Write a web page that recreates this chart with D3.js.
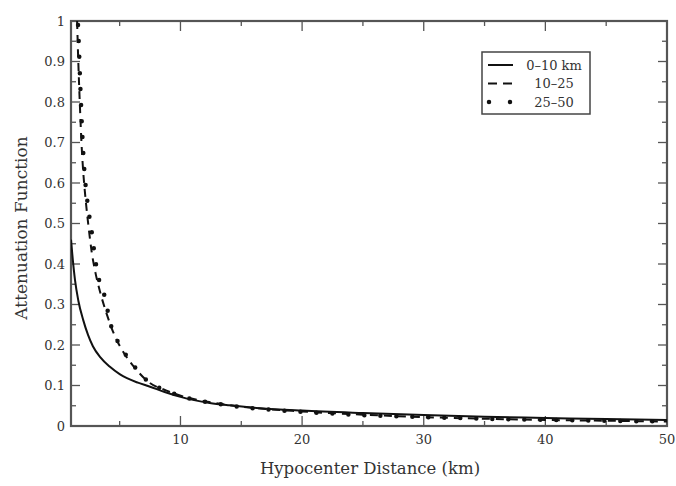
<!DOCTYPE html>
<html>
<head>
<meta charset="utf-8">
<script src="https://cdn.jsdelivr.net/npm/d3@7/dist/d3.min.js"></script>
<style>
	body { margin: 0; background: #fff; }
	svg text { font-family: "DejaVu Serif", "Liberation Serif", serif; fill: #333; }
	.frame { fill: none; stroke: #555; stroke-width: 2.2; }
	.tick { stroke: #555; stroke-width: 1.3; }
	.curve { fill: none; stroke: #111; }
</style>
</head>
<body>
<svg id="chart" width="676" height="486"></svg>
<script>
//
// data
//

var xTicks = [10, 20, 30, 40, 50];
var xMinor = [5, 15, 25, 35, 45];
var yTicks = [0, 0.1, 0.2, 0.3, 0.4, 0.5, 0.6, 0.7, 0.8, 0.9, 1];
var yTickLabels = ["0", "0.1", "0.2", "0.3", "0.4", "0.5", "0.6", "0.7", "0.8", "0.9", "1"];
var yMinor = [0.05, 0.15, 0.25, 0.35, 0.45, 0.55, 0.65, 0.75, 0.85, 0.95];

var seriesNames = ["0\u201310 km", "10\u201325", "25\u201350"];

// 0-10 km (solid)
var dist0 = [1, 1.15, 1.33, 1.6, 2.0, 2.4, 2.8, 3.4, 4.2, 5.0, 5.6, 6.5, 7.5, 8.7, 10, 12.4, 14, 16.5, 20, 25, 30, 35, 40, 45, 50];
var atten0 = [0.46, 0.41, 0.36, 0.31, 0.262, 0.225, 0.197, 0.17, 0.146, 0.128, 0.118, 0.107, 0.097, 0.084, 0.072, 0.057, 0.051, 0.044, 0.038, 0.032, 0.027, 0.023, 0.02, 0.017, 0.015];

// 10-25 km (dashed)
var dist1 = [1.5, 1.6, 1.72, 1.86, 2.0, 2.2, 2.45, 2.7, 3.0, 3.4, 3.9, 4.3, 4.8, 5.4, 6.4, 7.4, 8.8, 10.2, 12, 15, 20, 25, 30, 35, 40, 45, 50];
var atten1 = [1.0, 0.9, 0.8, 0.7, 0.63, 0.56, 0.49, 0.43, 0.38, 0.33, 0.28, 0.245, 0.21, 0.178, 0.138, 0.108, 0.088, 0.073, 0.061, 0.048, 0.036, 0.028, 0.022, 0.018, 0.015, 0.013, 0.011];

// 25-50 km (dotted)
var dist2 = [1.58, 1.66, 1.74, 1.82, 1.9, 2.0, 2.1, 2.25, 2.45, 2.7, 3.0, 3.35, 3.9, 4.1, 4.6, 5.25, 6.4, 7.4, 8.8, 10.2, 12, 15, 20, 25, 30, 35, 40, 45, 50];
var atten2 = [0.99, 0.93, 0.86, 0.8, 0.74, 0.68, 0.63, 0.58, 0.53, 0.48, 0.41, 0.355, 0.305, 0.27, 0.225, 0.188, 0.14, 0.108, 0.088, 0.072, 0.06, 0.047, 0.035, 0.027, 0.022, 0.018, 0.015, 0.013, 0.011];

//
//
//

var width = 676, height = 486;
var margin = { left: 71, top: 21, right: 9, bottom: 60 };
var plotW = width - margin.left - margin.right;
var plotH = height - margin.top - margin.bottom;

var svg = d3.select("#chart");

var xScale = d3.scaleLinear().domain([1, 50]).range([margin.left, margin.left + plotW]);
var yScale = d3.scaleLinear().domain([0, 1]).range([margin.top + plotH, margin.top]);

function draw_frame()
{
	svg.append("defs").append("clipPath")
		.attr("id", "plotclip")
		.append("rect")
			.attr("x", margin.left)
			.attr("y", margin.top - 3)
			.attr("width", plotW)
			.attr("height", plotH + 3);

	var g = svg.append("g").attr("class", "ticks");
	var x0 = margin.left, x1 = margin.left + plotW;
	var y0 = margin.top + plotH, y1 = margin.top;

	// ticks on all four sides, pointing in
	function vtick(v, len) {
		g.append("line").attr("class", "tick")
			.attr("x1", xScale(v)).attr("x2", xScale(v))
			.attr("y1", y0).attr("y2", y0 - len);
		g.append("line").attr("class", "tick")
			.attr("x1", xScale(v)).attr("x2", xScale(v))
			.attr("y1", y1).attr("y2", y1 + len);
	}
	function htick(v, len) {
		g.append("line").attr("class", "tick")
			.attr("x1", x0).attr("x2", x0 + len)
			.attr("y1", yScale(v)).attr("y2", yScale(v));
		g.append("line").attr("class", "tick")
			.attr("x1", x1).attr("x2", x1 - len)
			.attr("y1", yScale(v)).attr("y2", yScale(v));
	}
	xTicks.forEach(v => vtick(v, 10));
	xMinor.forEach(v => vtick(v, 5));
	yTicks.forEach(v => htick(v, 9));
	yMinor.forEach(v => htick(v, 5));

	svg.append("rect")
		.attr("class", "frame")
		.attr("x", x0).attr("y", y1)
		.attr("width", plotW).attr("height", plotH);

	svg.selectAll("text.xlabel")
		.data(xTicks)
		.enter()
		.append("text")
			.attr("class", "xlabel")
			.attr("x", d => xScale(d))
			.attr("y", y0 + 18)
			.attr("text-anchor", "middle")
			.attr("font-size", 13)
			.text(d => d);

	svg.selectAll("text.ylabel")
		.data(yTicks)
		.enter()
		.append("text")
			.attr("class", "ylabel")
			.attr("x", x0 - 6)
			.attr("y", d => yScale(d) + 4.5)
			.attr("text-anchor", "end")
			.attr("font-size", 13)
			.text((d, i) => yTickLabels[i]);

	svg.append("text")
		.attr("x", 370)
		.attr("y", 474)
		.attr("text-anchor", "middle")
		.attr("font-size", 16.5)
		.text("Hypocenter Distance (km)");

	svg.append("text")
		.attr("transform", "translate(27,228) rotate(-90)")
		.attr("text-anchor", "middle")
		.attr("font-size", 17)
		.text("Attenuation Function");
}

var styles = [
	{ width: 2, dash: null, cap: "butt" },
	{ width: 2, dash: "8,6", cap: "butt" },
	{ width: 4.5, dash: "0,16", cap: "round" }
];

// legend samples use their own dash spacing
var legendDash = [null, "9,6", "0,21"];

function draw_curves()
{
	var data = [
		d3.zip(dist0, atten0),
		d3.zip(dist1, atten1),
		d3.zip(dist2, atten2)
	];

	var line = d3.line()
		.x(d => xScale(d[0]))
		.y(d => yScale(d[1]))
		.curve(d3.curveMonotoneX);

	svg.append("g")
		.attr("clip-path", "url(#plotclip)")
		.selectAll("path")
		.data(data)
		.enter()
		.append("path")
			.attr("class", "curve")
			.attr("d", line)
			.attr("stroke-width", (d, i) => styles[i].width)
			.attr("stroke-dasharray", (d, i) => styles[i].dash)
			.attr("stroke-linecap", (d, i) => styles[i].cap);
}

function draw_legend()
{
	var lg = svg.append("g");
	lg.append("rect")
		.attr("x", 482).attr("y", 52)
		.attr("width", 108).attr("height", 62)
		.attr("fill", "#fff")
		.attr("stroke", "#444")
		.attr("stroke-width", 1.5);

	var rows = lg.selectAll("g.row")
		.data(seriesNames)
		.enter()
		.append("g")
			.attr("class", "row")
			.attr("transform", (d, i) => "translate(0," + (65 + i * 18.5) + ")");

	rows.append("line")
		.attr("x1", 488).attr("x2", 513)
		.attr("y1", 0).attr("y2", 0)
		.attr("stroke", "#111")
		.attr("stroke-width", (d, i) => styles[i].width)
		.attr("stroke-dasharray", (d, i) => legendDash[i])
		.attr("stroke-dashoffset", (d, i) => i == 2 ? -1 : 0)
		.attr("stroke-linecap", (d, i) => styles[i].cap);

	rows.append("text")
		.attr("x", 554)
		.attr("y", 4.5)
		.attr("text-anchor", "middle")
		.attr("font-size", 13)
		.text(d => d);
}

draw_frame();
draw_curves();
draw_legend();
</script>
</body>
</html>
